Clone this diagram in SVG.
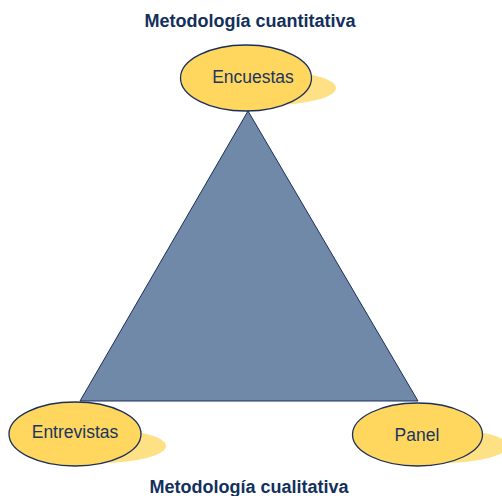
<svg xmlns="http://www.w3.org/2000/svg" width="502" height="496" viewBox="0 0 502 496">
<style>
.title{font-family:"Liberation Sans",Arial,sans-serif;font-weight:bold;font-size:18px;fill:#13305C;text-anchor:middle}
.lbl{font-family:"Liberation Sans",Arial,sans-serif;font-size:17.5px;fill:#1A3560;text-anchor:middle}
.node{fill:#FFD75E;stroke:#1A2F5A;stroke-width:1.3}
.shadow{fill:#FFE185}
.tri{fill:#7189A8;stroke:#1A2F5A;stroke-width:1}
</style>
<rect width="502" height="496" fill="#FFFFFF"/>
<g id="connectors">
<polygon class="tri" points="248,111 80,401 418,401"/>
</g>
<text class="title" x="250" y="27">Metodología cuantitativa</text>
<g id="encuestas">
<ellipse class="shadow" cx="270" cy="88" rx="66" ry="17"/>
<ellipse class="node" cx="246" cy="78" rx="65.5" ry="33"/>
<text class="lbl" x="253" y="83">Encuestas</text>
</g>
<g id="entrevistas">
<ellipse class="shadow" cx="100" cy="446" rx="66" ry="17"/>
<ellipse class="node" cx="75" cy="434" rx="66" ry="32"/>
<text class="lbl" x="75" y="438">Entrevistas</text>
</g>
<g id="panel">
<ellipse class="shadow" cx="442" cy="446" rx="66" ry="17"/>
<ellipse class="node" cx="417.5" cy="434.5" rx="65" ry="31.5"/>
<text class="lbl" x="417" y="441">Panel</text>
</g>
<text class="title" x="249" y="493">Metodología cualitativa</text>
</svg>
